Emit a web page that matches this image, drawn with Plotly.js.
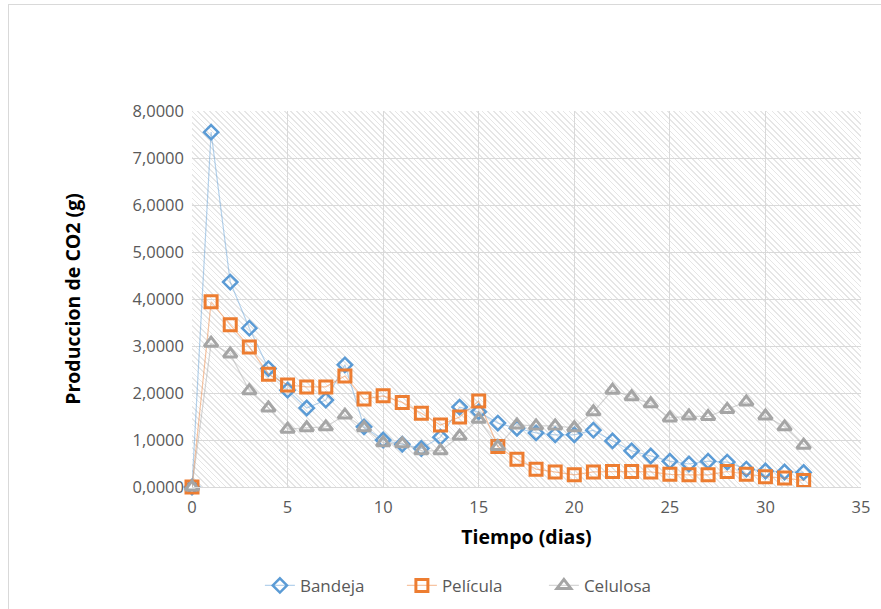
<!DOCTYPE html>
<html>
<head>
<meta charset="utf-8">
<script src="https://cdn.plot.ly/plotly-3.0.1.min.js"></script>
<style>
  html, body { margin: 0; padding: 0; background: #ffffff; }
  #wrap { position: relative; width: 881px; height: 609px; overflow: hidden; background: #fff; }
  #frame { position: absolute; left: 8px; top: 4px; width: 900px; height: 700px; border: 1px solid #d9d9d9; box-sizing: border-box; }
  #hatch { position: absolute; left: 192px; top: 111px; width: 669px; height: 376px;
    background: repeating-linear-gradient(45deg, #ffffff 0px, #ffffff 2.9px, #e6e6e6 2.9px, #e6e6e6 4.1px); }
  #chart { position: absolute; left: 0; top: 0; width: 881px; height: 609px; }
</style>
</head>
<body>
<div id="wrap">
  <div id="frame"></div>
  <div id="hatch"></div>
  <div id="chart"></div>
</div>
<script>
const dias = [0,1,2,3,4,5,6,7,8,9,10,11,12,13,14,15,16,17,18,19,20,21,22,23,24,25,26,27,28,29,30,31,32];
const bandeja = [0,7.55,4.36,3.38,2.52,2.06,1.68,1.85,2.60,1.28,1.00,0.91,0.82,1.06,1.70,1.60,1.36,1.25,1.15,1.11,1.11,1.21,0.98,0.77,0.66,0.55,0.49,0.55,0.53,0.38,0.34,0.32,0.31];
const pelicula = [0,3.94,3.45,2.98,2.40,2.17,2.13,2.13,2.36,1.87,1.94,1.80,1.57,1.32,1.49,1.83,0.86,0.59,0.38,0.32,0.26,0.32,0.33,0.33,0.32,0.27,0.26,0.26,0.33,0.27,0.22,0.19,0.14];
const celulosa = [0,3.06,2.83,2.05,1.68,1.23,1.26,1.28,1.53,1.26,0.94,0.92,0.77,0.77,1.08,1.44,0.86,1.32,1.30,1.30,1.26,1.60,2.06,1.92,1.77,1.47,1.51,1.50,1.65,1.81,1.51,1.28,0.89];
const nombres = ['Bandeja','Película','Celulosa'];
const yTicks = [0,1,2,3,4,5,6,7,8];
const xTicks = [0,5,10,15,20,25,30,35];

const font = "'Open Sans', Lato, 'Liberation Sans', sans-serif";

const traces = [
  {x: dias, y: bandeja, name: nombres[0], mode: 'lines+markers', cliponaxis: false,
   line: {color: 'rgba(91,155,213,0.45)', width: 1.2},
   marker: {symbol: 'diamond-open', size: 11, color: '#5b9bd5', line: {width: 2.5, color: '#5b9bd5'}}},
  {x: dias, y: pelicula, name: nombres[1], mode: 'lines+markers', cliponaxis: false,
   line: {color: 'rgba(237,125,49,0.45)', width: 1.2},
   marker: {symbol: 'square-open', size: 12, color: '#ed7d31', line: {width: 3, color: '#ed7d31'}}},
  {x: dias, y: celulosa, name: nombres[2], mode: 'lines+markers', cliponaxis: false,
   line: {color: 'rgba(165,165,165,0.45)', width: 1.2},
   marker: {symbol: 'triangle-up-open', size: 12, color: '#a5a5a5', line: {width: 3, color: '#a5a5a5'}}}
];

const layout = {
  width: 881, height: 609,
  margin: {l: 192, r: 20, t: 111, b: 122},
  paper_bgcolor: 'rgba(0,0,0,0)',
  plot_bgcolor: 'rgba(0,0,0,0)',
  separators: ',.',
  font: {family: font, color: '#595959', size: 16},
  showlegend: true,
  legend: {orientation: 'h', xref: 'container', x: 0.295, xanchor: 'left',
           yref: 'container', y: 0.038, yanchor: 'middle',
           entrywidth: 97, entrywidthmode: 'pixels',
           font: {family: font, size: 17, color: '#595959'},
           bgcolor: 'rgba(0,0,0,0)'},
  xaxis: {range: [0, 35], tickvals: xTicks, ticks: '', showline: true, linecolor: '#d9d9d9',
          gridcolor: '#d9d9d9', gridwidth: 1, zeroline: false, ticklabelstandoff: 5,
          tickfont: {family: font, size: 16.5, color: '#595959'},
          title: {text: 'Tiempo (dias)', font: {family: font, size: 19.5, color: '#000000', weight: 'bold'}, standoff: 13}},
  yaxis: {range: [0, 8], tickvals: yTicks, tickformat: '.4f', ticks: '', showline: false,
          gridcolor: '#d9d9d9', gridwidth: 1, zeroline: false, ticklabelstandoff: 7,
          tickfont: {family: font, size: 16.5, color: '#595959'},
          title: {text: 'Produccion de CO2 (g)', font: {family: font, size: 19.5, color: '#000000', weight: 'bold'}, standoff: 46}}
};

Plotly.newPlot('chart', traces, layout, {displayModeBar: false, staticPlot: true});
</script>
</body>
</html>
